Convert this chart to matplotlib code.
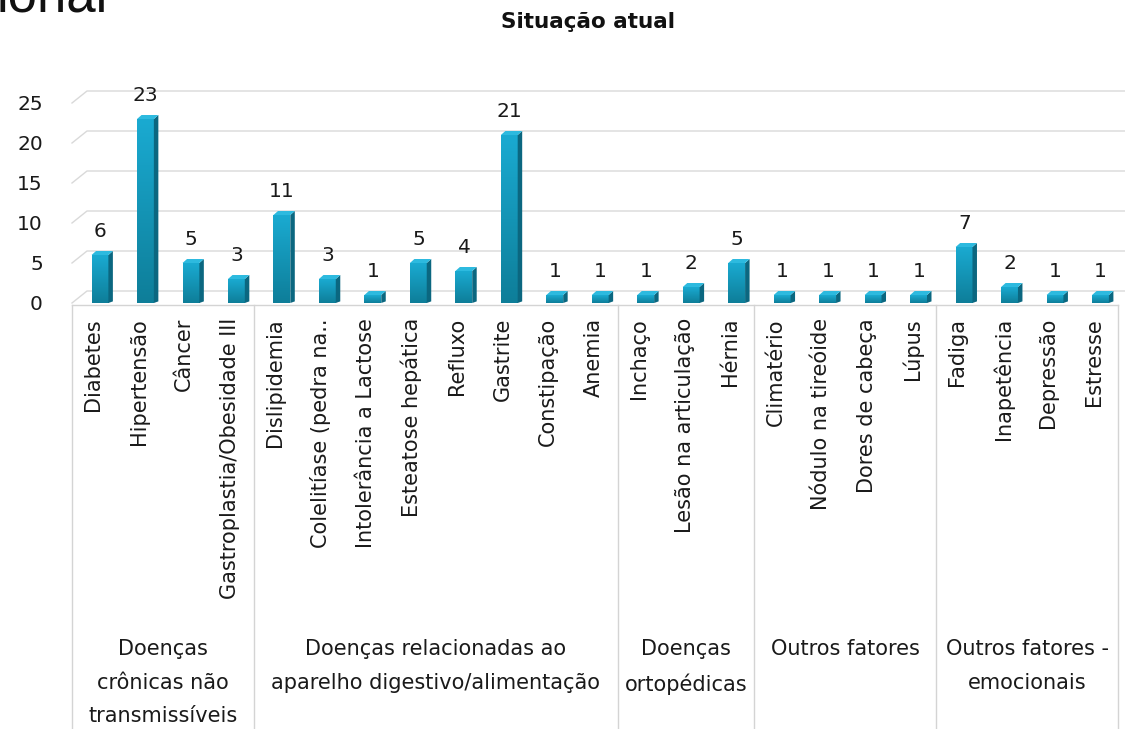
import numpy as np
import matplotlib
matplotlib.use("Agg")
import matplotlib.pyplot as plt
from matplotlib.patches import Polygon
from matplotlib.colors import LinearSegmentedColormap

# ---------------- data ----------------
categories = ["Diabetes", "Hipertensão", "Câncer", "Gastroplastia/Obesidade III",
              "Dislipidemia", "Colelitíase (pedra na..", "Intolerância a Lactose",
              "Esteatose hepática", "Refluxo", "Gastrite", "Constipação", "Anemia",
              "Inchaço", "Lesão na articulação", "Hérnia",
              "Climatério", "Nódulo na tireóide", "Dores de cabeça", "Lúpus",
              "Fadiga", "Inapetência", "Depressão", "Estresse"]
values = [6, 23, 5, 3, 11, 3, 1, 5, 4, 21, 1, 1, 1, 2, 5, 1, 1, 1, 1, 7, 2, 1, 1]
groups = ["Doenças\ncrônicas não\ntransmissíveis",
          "Doenças relacionadas ao\naparelho digestivo/alimentação",
          "Doenças\nortopédicas",
          "Outros fatores",
          "Outros fatores -\nemocionais"]
group_sizes = [4, 8, 3, 4, 4]
yticks = [0, 5, 10, 15, 20, 25]
title = "Situação atual"

# ---------------- figure ----------------
W, H = 1125, 729
fig = plt.figure(figsize=(W / 100, H / 100), dpi=100)
plt.rcParams['font.family'] = ['DejaVu Sans']
ax = fig.add_axes([72 / W, (H - 303) / H, (1118 - 72) / W, 200 / H])
n = len(categories)
ax.set_xlim(0, n)
ax.set_ylim(0, 25)
for s in ax.spines.values():
    s.set_visible(False)
ax.set_xticks([])
ax.set_yticks(yticks)
ax.tick_params(axis='y', length=0, pad=21, labelsize=14.5, labelcolor='#1a1a1a')

px_x = (1118 - 72) / n   # pixels per x unit
px_y = 8.0               # pixels per y unit

grid_c = '#d9d9d9'
back_dx = 15 / px_x
back_dy = 12 / px_y
for v in yticks:
    ax.plot([0, back_dx, n + 0.15], [v, v + back_dy, v + back_dy],
            color=grid_c, lw=1, clip_on=False, zorder=1)

# bars (pseudo 3D)
cmap = LinearSegmentedColormap.from_list("bar", ["#0e7e99", "#1aaad1"])
grad = np.linspace(0, 1, 64).reshape(-1, 1)
f_l, f_r = 0.43, 0.80
dx = 4.5 / px_x
dy = 4 / px_y
for i, v in enumerate(values):
    x0, x1 = i + f_l, i + f_r
    ax.imshow(grad, cmap=cmap, origin='lower', extent=(x0, x1, 0, v),
              aspect='auto', zorder=3)
    side = Polygon([(x1, 0), (x1 + dx, dy * 0.4), (x1 + dx, v + dy), (x1, v)],
                   closed=True, facecolor='#0b6780', edgecolor='none', zorder=3)
    top = Polygon([(x0, v), (x1, v), (x1 + dx, v + dy), (x0 + dx, v + dy)],
                  closed=True, facecolor='#2dbadf', edgecolor='none', zorder=4)
    ax.add_patch(side)
    ax.add_patch(top)
    ax.annotate(str(v), (i + 0.62, v), xytext=(0, 13), textcoords='offset points',
                ha='center', va='baseline', fontsize=14.5, color='#1a1a1a',
                annotation_clip=False)
ax.set_aspect('auto')
ax.set_xlim(0, n)
ax.set_ylim(0, 25)

# category table
line_c = '#d4d4d4'
y_top = -0.3
y_bot = (303 - 740) / px_y
ax.plot([0, n], [y_top, y_top], color=line_c, lw=1, clip_on=False)
bounds = np.concatenate([[0], np.cumsum(group_sizes)])
for b in bounds:
    ax.plot([b, b], [y_top, y_bot], color=line_c, lw=1, clip_on=False)

for i, c in enumerate(categories):
    ax.text(i + 0.47, (303 - 318) / px_y, c, rotation=90, ha='center', va='top',
            fontsize=15, color='#1a1a1a', clip_on=False)

for g, a, b in zip(groups, bounds[:-1], bounds[1:]):
    ax.text((a + b) / 2, (303 - 639) / px_y, g, ha='center', va='top',
            fontsize=15, color='#1a1a1a', linespacing=1.85, clip_on=False)

fig.text(588 / W, 1 - 22 / H, title, ha='center', va='center',
         fontsize=15.5, fontweight='bold', color='#111111')
fig.text(-3 / W, 1 - 12 / H, "ional", ha='left', va='baseline',
         fontsize=38, color='#111111', family=['Liberation Sans', 'DejaVu Sans'])

fig.savefig("out.png", dpi=100)
